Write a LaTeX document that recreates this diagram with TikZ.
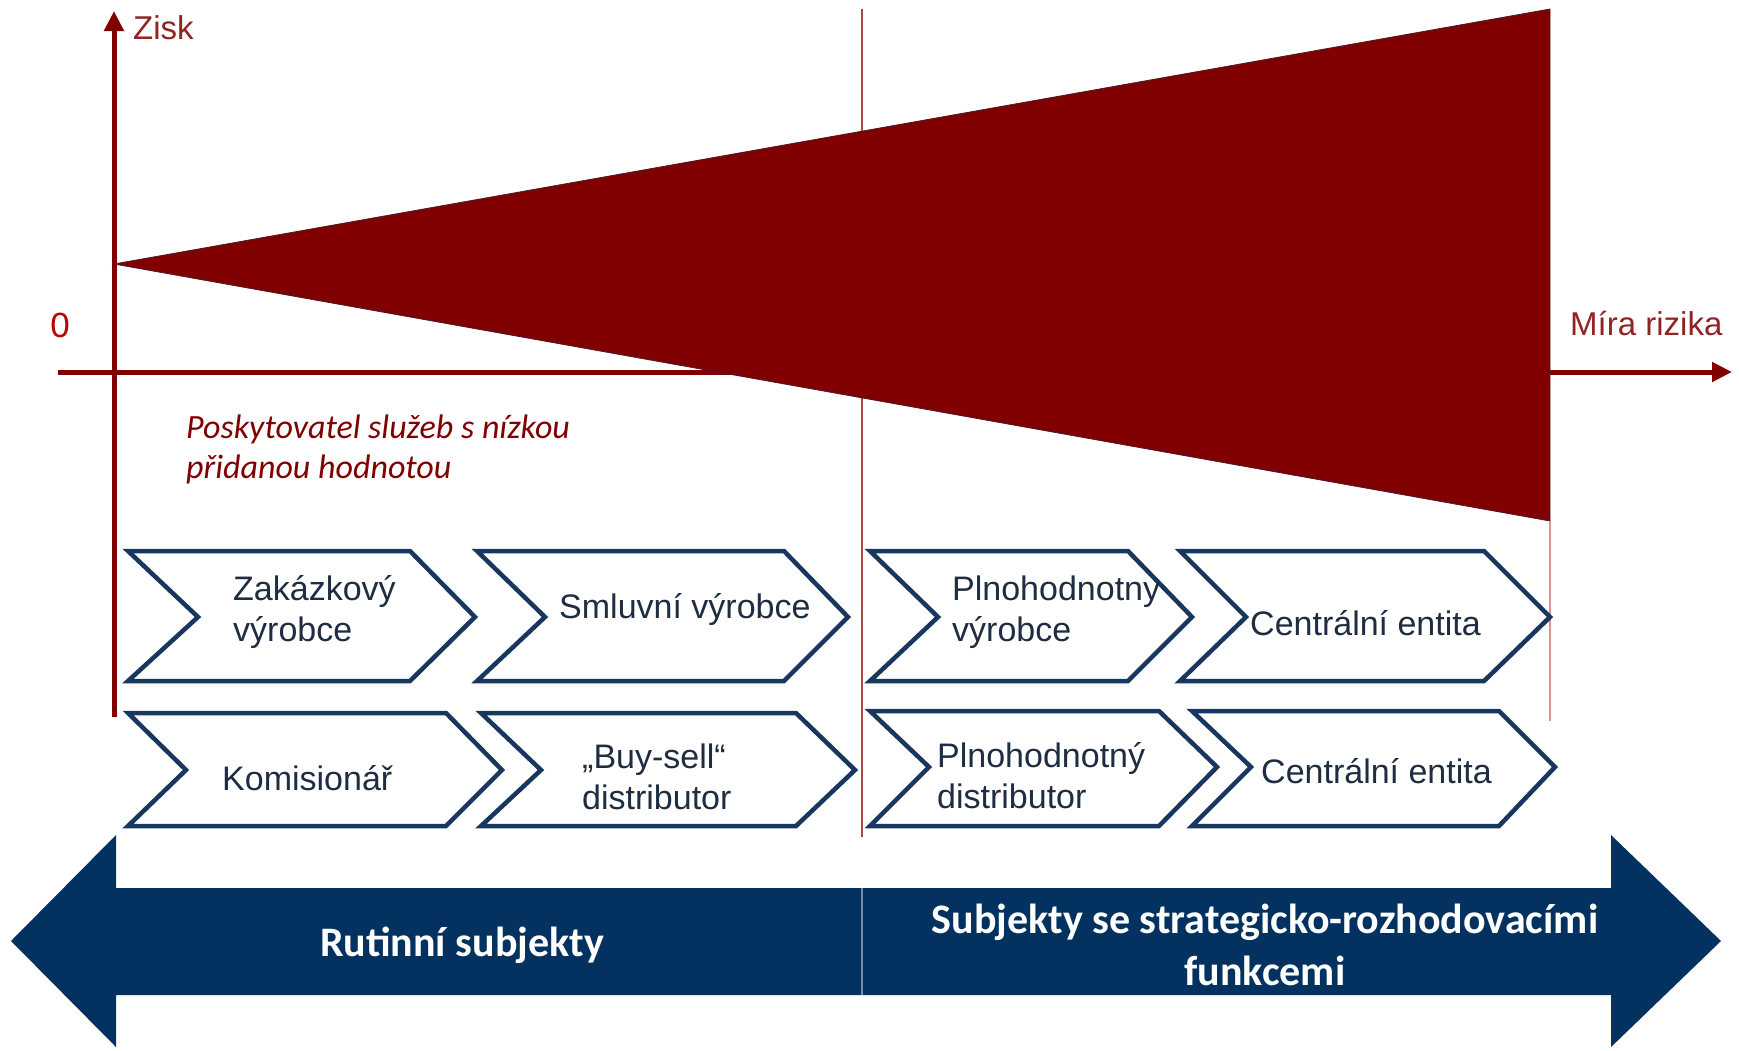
\documentclass[tikz,border=0pt]{standalone}
\usepackage{fontspec}
\setmainfont{Liberation Sans}
\newfontfamily\calib{Carlito}
\usetikzlibrary{arrows.meta}
\definecolor{dred}{RGB}{128,0,0}
\definecolor{lblred}{RGB}{145,35,35}
\definecolor{zred}{RGB}{192,0,0}
\definecolor{chevnavy}{RGB}{23,55,94}
\definecolor{bignavy}{RGB}{3,50,96}
\definecolor{txtc}{RGB}{30,45,65}
\definecolor{guide}{RGB}{175,70,70}
\definecolor{pinkline}{RGB}{215,150,150}
\newcommand\mychev[7]{\draw[chev] (#1,#5) -- (#3,#5) -- (#4,#6) -- (#3,#7) -- (#1,#7) -- (#2,#6) -- cycle;}
\begin{document}
\begin{tikzpicture}[x=1pt,y=-1pt,
  axis/.style={draw=dred,line width=5pt},
  tip/.style={-{Triangle[length=20pt,width=19pt]}},
  chev/.style={draw=chevnavy,line width=4.5pt,fill=white,line join=miter},
  ctext/.style={font=\fontsize{34}{41}\selectfont,text=txtc,inner sep=0pt,anchor=west,align=left},
  lbl/.style={font=\fontsize{33}{40}\selectfont,text=lblred,inner sep=0pt},
  bigtext/.style={font=\calib\bfseries\fontsize{42}{52}\selectfont,text=white,align=center,inner sep=0pt}]
\useasboundingbox (0,0) rectangle (1739,1050);

% coordinates
\coordinate (yb) at (114,717);
\coordinate (yt) at (114,11);
\coordinate (xl) at (58,372);
\coordinate (xr) at (1732,372);
\coordinate (apex) at (114,264);
\coordinate (tr) at (1550,9);
\coordinate (br) at (1550,521);
\coordinate (rl) at (1550,721);
\coordinate (gt) at (862,9);
\coordinate (gb) at (862,837);

% thin guide line
\draw[guide,line width=1.6pt] (gt) -- (gb);

% x axis
\draw[axis,tip] (xl) -- (xr);

% triangle
\fill[dred] (apex) -- (tr) -- (br) -- cycle;
\draw[chevnavy!50!dred,line width=0.8pt] (br) -- (apex) -- (tr) -- (br);

% y axis
\draw[axis,tip] (yb) -- (yt);

% right thin line
\draw[pinkline,line width=1.6pt] (br) -- (rl);

% labels
\node[lbl,anchor=west] (zisk) at (133,28) {Zisk};
\node[lbl,anchor=west] (mira) at (1570,324) {Míra rizika};
\node[font=\fontsize{35}{40}\selectfont,text=zred,inner sep=0pt] (zero) at (60,325) {0};
\node[font=\calib\itshape\fontsize{34}{40}\selectfont,text=dred,anchor=west,align=left,inner sep=0pt] (posk) at (186,449) {Poskytovatel služeb s nízkou\\přidanou hodnotou};

% chevrons top row
\mychev{128}{198}{410}{475}{551}{617}{681}
\mychev{477}{545}{784}{848}{551}{617}{681}
\mychev{870}{938}{1128}{1192}{551}{617}{681}
\mychev{1180}{1246}{1484}{1550}{551}{617}{681}
% chevrons bottom row
\mychev{128}{186}{446}{502}{713}{770}{826}
\mychev{481}{541}{796}{855}{713}{770}{826}
\mychev{870}{929}{1159}{1217}{711}{767}{826}
\mychev{1192}{1251}{1499}{1555}{711}{767}{826}

\node[ctext] (zak) at (233,612) {Zakázkový\\výrobce};
\node[ctext] (sml) at (559,609) {Smluvní výrobce};
\node[ctext] (plv) at (952,612) {Plnohodnotny\\výrobce};
\node[ctext] (ce1) at (1250,623) {Centrální entita};
\node[ctext] (kom) at (222,778) {Komisionář};
\node[ctext] (bs) at (582,777) {„Buy-sell“\\distributor};
\node[ctext] (pld) at (937,776) {Plnohodnotný\\distributor};
\node[ctext] (ce2) at (1261,771) {Centrální entita};

% big double arrow
\fill[bignavy] (11,941) -- (116,835) -- (116,888) -- (1611,888) -- (1611,835) -- (1721,941)
  -- (1611,1047) -- (1611,995) -- (116,995) -- (116,1047) -- cycle;
\coordinate (dt) at (862,888);
\coordinate (db) at (862,995);
\draw[white!45!bignavy,line width=1.5pt] (dt) -- (db);
\node[bigtext] (rut) at (462,945) {Rutinní subjekty};
\node[bigtext] (strat) at (1265,945) {Subjekty se strategicko-rozhodovacími\\funkcemi};
\end{tikzpicture}
\end{document}
